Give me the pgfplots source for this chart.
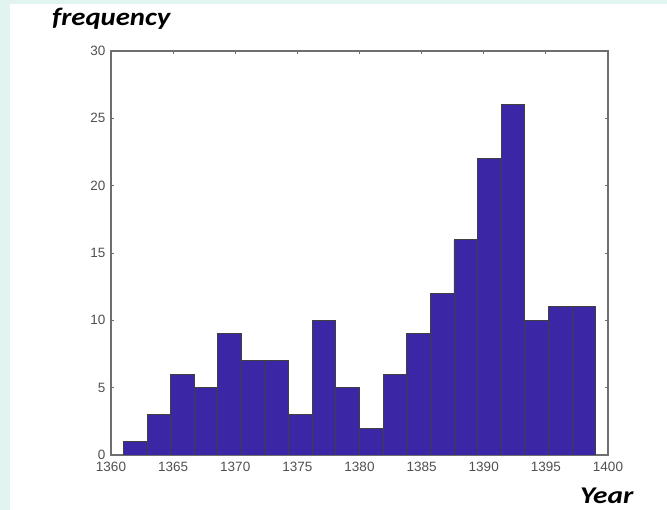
\documentclass[border=0pt]{standalone}
\usepackage{pgfplots}
\pgfplotsset{compat=1.18}
\usepackage{graphicx}
\usepackage{fontspec}
\setmainfont{Liberation Sans}
\newfontfamily\calib{Carlito}
\definecolor{mint}{RGB}{226,244,239}
\definecolor{barblue}{RGB}{59,39,166}
\definecolor{axgray}{RGB}{110,110,110}
\definecolor{tickgray}{RGB}{80,80,80}
\begin{document}
\begin{tikzpicture}[x=1pt,y=1pt]
\fill[mint] (0,0) rectangle (667,510);
\fill[white] (10,0) rectangle (667,506);
\useasboundingbox (0,0) rectangle (667,510);
\begin{axis}[
  at={(111pt,55pt)}, anchor=south west,
  scale only axis, width=497pt, height=404pt,
  xmin=1360, xmax=1400, ymin=0, ymax=30,
  xtick={1360,1365,...,1400}, ytick={0,5,...,30},
  tick align=inside, major tick length=3pt,
  axis line style={axgray, line width=1.2pt},
  every tick/.style={axgray, line width=0.8pt},
  tick label style={font=\fontsize{13.5}{15}\selectfont, text=tickgray},
  /pgf/number format/assume math mode=true,
  /pgf/number format/1000 sep={},
  xticklabel style={yshift=-4pt},
  yticklabel style={xshift=-2pt},
]
\addplot[ybar interval, fill=barblue, draw=black!75, line width=0.8pt] coordinates {
(1361.0,1) (1362.9,3) (1364.8,6) (1366.7,5) (1368.6,9) (1370.5,7) (1372.4,7) (1374.3,3) (1376.2,10) (1378.1,5)
(1380.0,2) (1381.9,6) (1383.8,9) (1385.7,12) (1387.6,16) (1389.5,22) (1391.4,26) (1393.3,10) (1395.2,11) (1397.1,11)
(1399.0,11)
};
\end{axis}
\node[anchor=base west, inner sep=0pt, font=\calib\bfseries\itshape\fontsize{25}{27}\selectfont] at (52,484) {\scalebox{1.15}[1]{frequency}};
\node[anchor=base west, inner sep=0pt, font=\calib\bfseries\itshape\fontsize{24}{27}\selectfont] at (580,6) {\scalebox{1.22}[1]{Year}};
\end{tikzpicture}
\end{document}
